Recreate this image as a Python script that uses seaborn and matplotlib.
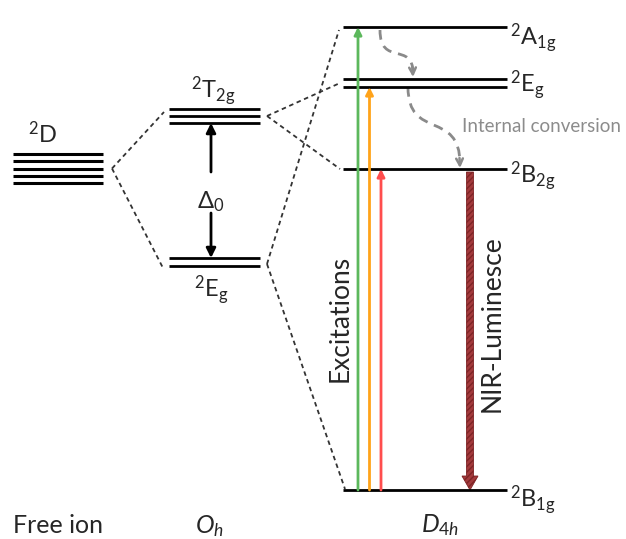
import matplotlib
matplotlib.use("Agg")
import matplotlib.pyplot as plt
import numpy as np
import pandas as pd
import seaborn as sns
from matplotlib.patches import FancyArrow, PathPatch
from matplotlib.path import Path

# ---- energy levels (diagram energy units, higher = up) ----
free_ion_2D = [385, 378, 370.5, 363, 356]
oh_T2g = [430, 423, 416]
oh_Eg = [281, 273]
d4h_A1g = [512]
d4h_Eg = [460, 452]
d4h_B2g = [370]
d4h_B1g = [49]

d4h_names = [r"$^{2}\mathrm{A_{1g}}$", r"$^{2}\mathrm{E_{g}}$",
             r"$^{2}\mathrm{B_{2g}}$", r"$^{2}\mathrm{B_{1g}}$"]
column_names = ["Free ion", r"$O_h$", r"$D_{4h}$"]
excitation_colors = ["#5cb85c", "#ffa31a", "#ff4d4d"]
excitation_targets = [d4h_A1g[0], d4h_Eg[1], d4h_B2g[0]]

sns.set_theme(style="white")
plt.rcParams["font.family"] = ["Lato", "DejaVu Sans"]
plt.rcParams["mathtext.fontset"] = "custom"
plt.rcParams["mathtext.rm"] = "Lato"
plt.rcParams["mathtext.it"] = "Lato:italic"
plt.rcParams["mathtext.bf"] = "Lato:bold"

fig = plt.figure(figsize=(6.26, 5.39), dpi=100)
ax = fig.add_axes([0, 0, 1, 1])
ax.set_xlim(0, 626)
ax.set_ylim(0, 539)
ax.axis("off")

# column extents
free_x = (13, 103)
oh_x = (169, 260)
d4h_x = (343, 507)

# ---- horizontal levels ----
ax.hlines(free_ion_2D, *free_x, color="black", lw=2.2)
ax.hlines(oh_T2g + oh_Eg, *oh_x, color="black", lw=2.0)
ax.hlines(d4h_A1g + d4h_Eg + d4h_B2g + d4h_B1g, *d4h_x, color="black", lw=2.0)

# ---- correlation (dashed) lines ----
c2D = np.mean(free_ion_2D)
cT2g = np.mean(oh_T2g)
cEg = np.mean(oh_Eg)
segments = [
    (112, c2D, 164, oh_T2g[1] + 4),
    (112, c2D, 163, oh_Eg[1] - 2),
    (267, cT2g, 340, np.mean(d4h_Eg)),
    (267, cT2g, 340, d4h_B2g[0]),
    (267, cEg - 2, 339, d4h_A1g[0] - 3),
    (267, cEg - 2, 345, d4h_B1g[0] + 1),
]
rows = []
for i, (x0, y0, x1, y1) in enumerate(segments):
    rows.append({"seg": i, "x": x0, "y": y0})
    rows.append({"seg": i, "x": x1, "y": y1})
corr = pd.DataFrame(rows)
sns.lineplot(data=corr, x="x", y="y", units="seg", estimator=None, sort=False,
             color="#333333", lw=1.3, dashes=False, ax=ax, legend=False)
for line in ax.get_lines():
    line.set_dashes((2.5, 2.0))

# ---- level labels ----
ax.text(43, 396, r"$^{2}\mathrm{D}$", fontsize=17, ha="center", va="baseline")
ax.text(213, 441, r"$^{2}\mathrm{T_{2g}}$", fontsize=17, ha="center", va="baseline")
ax.text(211, 242, r"$^{2}\mathrm{E_{g}}$", fontsize=17, ha="center", va="baseline")
for name, yb in zip(d4h_names, [494, 447, 356, 32]):
    ax.text(510, yb, name, fontsize=17, ha="left", va="baseline")

# ---- Delta_0 arrows ----
ax.annotate("", xy=(211, oh_T2g[2]), xytext=(211, 367),
            arrowprops=dict(arrowstyle="-|>", color="black", lw=2,
                            mutation_scale=14, shrinkA=0, shrinkB=0))
ax.annotate("", xy=(211, oh_Eg[0]), xytext=(211, 326),
            arrowprops=dict(arrowstyle="-|>", color="black", lw=2,
                            mutation_scale=14, shrinkA=0, shrinkB=0))
ax.text(211, 331, r"$\mathrm{\Delta_{0}}$", fontsize=17, ha="center", va="baseline")

# ---- excitation arrows ----
for x, col, top in zip([358, 369.5, 381], excitation_colors, excitation_targets):
    ax.annotate("", xy=(x, top), xytext=(x, d4h_B1g[0]),
                arrowprops=dict(arrowstyle="-|>", color=col, lw=2,
                                mutation_scale=11, shrinkA=0, shrinkB=0))
ax.text(340, 221, "Excitations", fontsize=19, rotation=90,
        ha="center", va="center")

# ---- NIR luminescence ----
nir = FancyArrow(470, d4h_B2g[0] - 3, 0, -(d4h_B2g[0] - 3 - d4h_B1g[0]),
                 width=7, head_width=16, head_length=14,
                 length_includes_head=True, facecolor="#a33a3c",
                 edgecolor="#7e2426", hatch="//////", lw=0.6)
ax.add_patch(nir)
ax.text(492, 215, "NIR-Luminesce", fontsize=19, rotation=90,
        ha="center", va="center")

# ---- internal conversion (dashed curved arrows) ----
gray = "#8a8a8a"
for p0, p1, p2, p3 in [((380, 509), (380, 472), (413, 498), (413, 466)),
                       ((408, 452), (408, 398), (460, 430), (460, 375))]:
    path = Path([p0, p1, p2, p3], [Path.MOVETO, Path.CURVE4, Path.CURVE4, Path.CURVE4])
    ax.add_patch(PathPatch(path, fill=False, edgecolor=gray, lw=2,
                           linestyle=(0, (3.5, 2.5))))
    ax.annotate("", xy=(p3[0], p3[1] - 4), xytext=(p3[0] - 0.5, p3[1] + 6),
                arrowprops=dict(arrowstyle="->", color=gray, lw=1.8,
                                mutation_scale=12, shrinkA=0, shrinkB=0))
ax.text(462, 413, "Internal conversion", fontsize=13.5, color="#8c8c8c",
        ha="left", va="center")

# ---- column names ----
ax.text(13, 6, column_names[0], fontsize=18, ha="left", va="baseline")
ax.text(209, 6, column_names[1], fontsize=18, ha="center", va="baseline")
ax.text(440, 7, column_names[2], fontsize=18, ha="center", va="baseline")

fig.savefig("out.png", dpi=100)
